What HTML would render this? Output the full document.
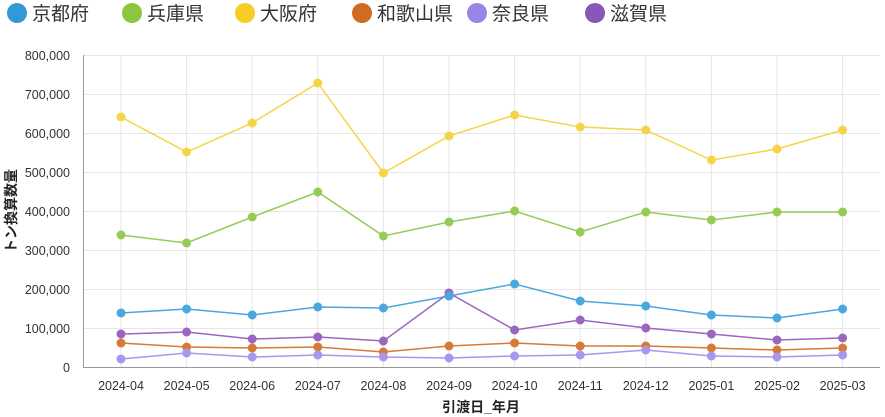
<!DOCTYPE html>
<html><head><meta charset="utf-8"><style>
body{margin:0;background:#fff;}
svg{display:block;font-family:"Liberation Sans","Noto Sans CJK JP",sans-serif;}
</style></head><body>
<svg width="885" height="417" xmlns="http://www.w3.org/2000/svg">
<g font-size="19" fill="#333">
<circle cx="17" cy="13" r="10" fill="#3399d6"/><text x="32" y="20">京都府</text>
<circle cx="132" cy="13" r="10" fill="#8cc63f"/><text x="147" y="20">兵庫県</text>
<circle cx="245" cy="13" r="10" fill="#f5cd25"/><text x="260" y="20">大阪府</text>
<circle cx="362" cy="13" r="10" fill="#d06c1f"/><text x="377" y="20">和歌山県</text>
<circle cx="477" cy="13" r="10" fill="#9a84e8"/><text x="492" y="20">奈良県</text>
<circle cx="595" cy="13" r="10" fill="#8a56b8"/><text x="610" y="20">滋賀県</text>
</g>
<g stroke="#e6e6e6" stroke-width="1">
<line x1="83" x2="880" y1="55.5" y2="55.5"/><line x1="83" x2="880" y1="94.5" y2="94.5"/>
<line x1="83" x2="880" y1="133.5" y2="133.5"/><line x1="83" x2="880" y1="172.5" y2="172.5"/>
<line x1="83" x2="880" y1="211.5" y2="211.5"/><line x1="83" x2="880" y1="250.5" y2="250.5"/>
<line x1="83" x2="880" y1="289.5" y2="289.5"/><line x1="83" x2="880" y1="328.5" y2="328.5"/>
<line x1="121" x2="121" y1="55" y2="367"/><line x1="186.6" x2="186.6" y1="55" y2="367"/>
<line x1="252.2" x2="252.2" y1="55" y2="367"/><line x1="317.8" x2="317.8" y1="55" y2="367"/>
<line x1="383.4" x2="383.4" y1="55" y2="367"/><line x1="449" x2="449" y1="55" y2="367"/>
<line x1="514.6" x2="514.6" y1="55" y2="367"/><line x1="580.2" x2="580.2" y1="55" y2="367"/>
<line x1="645.8" x2="645.8" y1="55" y2="367"/><line x1="711.4" x2="711.4" y1="55" y2="367"/>
<line x1="777" x2="777" y1="55" y2="367"/><line x1="842.6" x2="842.6" y1="55" y2="367"/>
</g>
<line x1="83.5" x2="83.5" y1="55" y2="367" stroke="#999"/>
<line x1="83" x2="880" y1="367.5" y2="367.5" stroke="#999"/>
<g font-size="12.5" fill="#333" text-anchor="end">
<text x="70" y="60">800,000</text><text x="70" y="99">700,000</text><text x="70" y="138">600,000</text>
<text x="70" y="177">500,000</text><text x="70" y="216">400,000</text><text x="70" y="255">300,000</text>
<text x="70" y="294">200,000</text><text x="70" y="333">100,000</text><text x="70" y="372">0</text>
</g>
<g font-size="12.5" fill="#333" text-anchor="middle">
<text x="121" y="390">2024-04</text><text x="186.6" y="390">2024-05</text><text x="252.2" y="390">2024-06</text>
<text x="317.8" y="390">2024-07</text><text x="383.4" y="390">2024-08</text><text x="449" y="390">2024-09</text>
<text x="514.6" y="390">2024-10</text><text x="580.2" y="390">2024-11</text><text x="645.8" y="390">2024-12</text>
<text x="711.4" y="390">2025-01</text><text x="777" y="390">2025-02</text><text x="842.6" y="390">2025-03</text>
</g>
<text x="481" y="412" font-size="14" font-weight="bold" fill="#222" text-anchor="middle">引渡日_年月</text>
<text transform="translate(16,211) rotate(-90)" font-size="14" font-weight="bold" fill="#222" text-anchor="middle">トン換算数量</text>
<g fill="none" stroke-width="1.5">
<polyline stroke="#f5d547" points="121,117 186.6,152 252.2,123 317.8,83 383.4,173 449,136 514.6,115 580.2,127 645.8,130 711.4,160 777,149 842.6,130"/>
<polyline stroke="#94cc55" points="121,235 186.6,243 252.2,217 317.8,192 383.4,236 449,222 514.6,211 580.2,232 645.8,212 711.4,220 777,212 842.6,212"/>
<polyline stroke="#4aa8dd" points="121,313 186.6,309 252.2,315 317.8,307 383.4,308 449,296 514.6,284 580.2,301 645.8,306 711.4,315 777,318 842.6,309"/>
<polyline stroke="#9b66c0" points="121,334 186.6,332 252.2,339 317.8,337 383.4,341 449,293 514.6,330 580.2,320 645.8,328 711.4,334 777,340 842.6,338"/>
<polyline stroke="#d67a35" points="121,343 186.6,347 252.2,348 317.8,347 383.4,352 449,346 514.6,343 580.2,346 645.8,346 711.4,348 777,350 842.6,348"/>
<polyline stroke="#a996ee" points="121,359 186.6,353 252.2,357 317.8,355 383.4,357 449,358 514.6,356 580.2,355 645.8,350 711.4,356 777,357 842.6,355"/>
</g>
<g fill="#f5d547"><circle cx="121" cy="117" r="4.5"/><circle cx="186.6" cy="152" r="4.5"/><circle cx="252.2" cy="123" r="4.5"/><circle cx="317.8" cy="83" r="4.5"/><circle cx="383.4" cy="173" r="4.5"/><circle cx="449" cy="136" r="4.5"/><circle cx="514.6" cy="115" r="4.5"/><circle cx="580.2" cy="127" r="4.5"/><circle cx="645.8" cy="130" r="4.5"/><circle cx="711.4" cy="160" r="4.5"/><circle cx="777" cy="149" r="4.5"/><circle cx="842.6" cy="130" r="4.5"/></g>
<g fill="#94cc55"><circle cx="121" cy="235" r="4.5"/><circle cx="186.6" cy="243" r="4.5"/><circle cx="252.2" cy="217" r="4.5"/><circle cx="317.8" cy="192" r="4.5"/><circle cx="383.4" cy="236" r="4.5"/><circle cx="449" cy="222" r="4.5"/><circle cx="514.6" cy="211" r="4.5"/><circle cx="580.2" cy="232" r="4.5"/><circle cx="645.8" cy="212" r="4.5"/><circle cx="711.4" cy="220" r="4.5"/><circle cx="777" cy="212" r="4.5"/><circle cx="842.6" cy="212" r="4.5"/></g>
<g fill="#4aa8dd"><circle cx="121" cy="313" r="4.5"/><circle cx="186.6" cy="309" r="4.5"/><circle cx="252.2" cy="315" r="4.5"/><circle cx="317.8" cy="307" r="4.5"/><circle cx="383.4" cy="308" r="4.5"/><circle cx="449" cy="296" r="4.5"/><circle cx="514.6" cy="284" r="4.5"/><circle cx="580.2" cy="301" r="4.5"/><circle cx="645.8" cy="306" r="4.5"/><circle cx="711.4" cy="315" r="4.5"/><circle cx="777" cy="318" r="4.5"/><circle cx="842.6" cy="309" r="4.5"/></g>
<g fill="#9b66c0"><circle cx="121" cy="334" r="4.5"/><circle cx="186.6" cy="332" r="4.5"/><circle cx="252.2" cy="339" r="4.5"/><circle cx="317.8" cy="337" r="4.5"/><circle cx="383.4" cy="341" r="4.5"/><circle cx="449" cy="293" r="4.5"/><circle cx="514.6" cy="330" r="4.5"/><circle cx="580.2" cy="320" r="4.5"/><circle cx="645.8" cy="328" r="4.5"/><circle cx="711.4" cy="334" r="4.5"/><circle cx="777" cy="340" r="4.5"/><circle cx="842.6" cy="338" r="4.5"/></g>
<g fill="#d67a35"><circle cx="121" cy="343" r="4.5"/><circle cx="186.6" cy="347" r="4.5"/><circle cx="252.2" cy="348" r="4.5"/><circle cx="317.8" cy="347" r="4.5"/><circle cx="383.4" cy="352" r="4.5"/><circle cx="449" cy="346" r="4.5"/><circle cx="514.6" cy="343" r="4.5"/><circle cx="580.2" cy="346" r="4.5"/><circle cx="645.8" cy="346" r="4.5"/><circle cx="711.4" cy="348" r="4.5"/><circle cx="777" cy="350" r="4.5"/><circle cx="842.6" cy="348" r="4.5"/></g>
<g fill="#a996ee"><circle cx="121" cy="359" r="4.5"/><circle cx="186.6" cy="353" r="4.5"/><circle cx="252.2" cy="357" r="4.5"/><circle cx="317.8" cy="355" r="4.5"/><circle cx="383.4" cy="357" r="4.5"/><circle cx="449" cy="358" r="4.5"/><circle cx="514.6" cy="356" r="4.5"/><circle cx="580.2" cy="355" r="4.5"/><circle cx="645.8" cy="350" r="4.5"/><circle cx="711.4" cy="356" r="4.5"/><circle cx="777" cy="357" r="4.5"/><circle cx="842.6" cy="355" r="4.5"/></g>
<circle cx="449" cy="296" r="4.5" fill="#4aa8dd"/>
</svg>
</body></html>
